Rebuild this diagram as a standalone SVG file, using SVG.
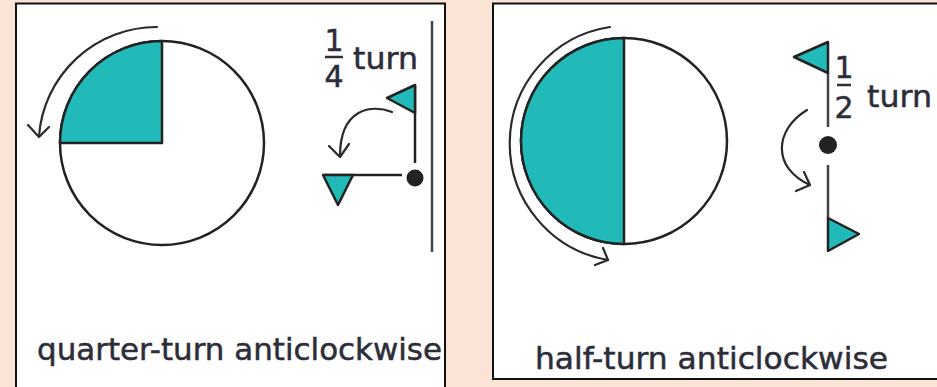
<svg xmlns="http://www.w3.org/2000/svg" width="937" height="387" viewBox="0 0 937 387">
  <defs>
    <style>
      .panel { fill: #ffffff; stroke: #111111; stroke-width: 2; }
      .outline { fill: #ffffff; stroke: #222222; stroke-width: 2.5; }
      .teal { fill: #21BAB8; stroke: #222222; stroke-width: 2.5; stroke-linejoin: round; }
      .line { fill: none; stroke: #222222; stroke-width: 2.5; }
      .pole { fill: none; stroke: #444444; stroke-width: 2.5; }
      .arrow { fill: none; stroke: #2a2a2a; stroke-width: 2.2; stroke-linecap: round; stroke-linejoin: round; }
      .txt { font-family: "DejaVu Sans", "Liberation Sans", sans-serif; fill: #2d2d3a; stroke: #2d2d3a; stroke-width: 0.5; font-size: 30px; }
      .frac { font-family: "DejaVu Sans", "Liberation Sans", sans-serif; fill: #2d2d3a; stroke: #2d2d3a; stroke-width: 0.5; font-size: 30px; text-anchor: middle; }
      .bar { stroke: #2d2d3a; stroke-width: 2.5; }
    </style>
  </defs>
  <rect x="0" y="0" width="937" height="387" fill="#FBE4D6"/>

  <g id="panel-quarter">
    <rect class="panel" x="16" y="3.5" width="429" height="400"/>
    <g id="quarter-circle">
      <circle class="outline" cx="162" cy="143" r="102"/>
      <path class="teal" d="M162,143 L162,41 A102,102 0 0 0 60,143 Z"/>
    </g>
    <g id="quarter-flag">
      <line class="pole" x1="432" y1="21" x2="432" y2="252"/>
      <line class="line" x1="415" y1="85" x2="415" y2="163"/>
      <polygon class="teal" points="415,85 387,98 415,113"/>
      <circle cx="415" cy="178" r="8.5" fill="#222222"/>
      <line class="line" x1="323" y1="175" x2="402" y2="175"/>
      <polygon class="teal" points="323,175 353,175 338,205"/>
    </g>
    <g id="quarter-label">
      <text class="frac" x="334" y="51">1</text>
      <line class="bar" x1="325" y1="57" x2="343" y2="57"/>
      <text class="frac" x="334" y="87">4</text>
      <text class="txt" x="353" y="69" textLength="65" lengthAdjust="spacingAndGlyphs">turn</text>
    </g>
    <text class="txt" x="37" y="360" textLength="405" lengthAdjust="spacingAndGlyphs">quarter-turn anticlockwise</text>
  </g>

  <g id="panel-half">
    <rect class="panel" x="493" y="3.5" width="460" height="375.5"/>
    <g id="half-circle">
      <circle class="outline" cx="624" cy="141" r="103"/>
      <path class="teal" d="M624,38 A103,103 0 0 0 624,244 Z"/>
    </g>
    <g id="half-flag">
      <line class="pole" x1="828" y1="73" x2="828" y2="127"/>
      <polygon class="teal" points="828,42 794,57 828,73"/>
      <circle cx="828" cy="145" r="9" fill="#222222"/>
      <line class="pole" x1="828" y1="165" x2="828" y2="218"/>
      <polygon class="teal" points="828,218 859,234 828,251"/>
    </g>
    <g id="half-label">
      <text class="frac" x="844" y="78">1</text>
      <line class="bar" x1="837" y1="85" x2="851" y2="85"/>
      <text class="frac" x="844" y="118">2</text>
      <text class="txt" x="867" y="107" textLength="65" lengthAdjust="spacingAndGlyphs">turn</text>
    </g>
    <text class="txt" x="535" y="369" textLength="353" lengthAdjust="spacingAndGlyphs">half-turn anticlockwise</text>
  </g>

  <g id="connectors">
    <path class="arrow" d="M157,27 A118,118 0 0 0 39,136"/>
    <path class="arrow" d="M28,125 L39,137 L49,127"/>
    <path class="arrow" d="M392,112 C372,104 340,108 340,156"/>
    <path class="arrow" d="M329,146 L340,157 L349,144"/>
    <path class="arrow" d="M610,27 A118,118 0 0 0 608,260"/>
    <path class="arrow" d="M595,265 L608,260 L603,248"/>
    <path class="arrow" d="M807,110 C774,130 772,168 810,185"/>
    <path class="arrow" d="M796,191 L810,185 L804,172"/>
  </g>
</svg>
